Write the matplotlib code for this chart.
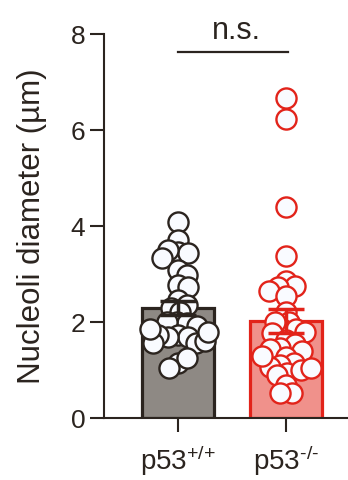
import numpy as np
import matplotlib
matplotlib.use("Agg")
import matplotlib.pyplot as plt

plt.rcParams["font.family"] = ["Liberation Sans", "DejaVu Sans"]
plt.rcParams["mathtext.fontset"] = "custom"
plt.rcParams["mathtext.rm"] = "Liberation Sans"
plt.rcParams["mathtext.it"] = "Liberation Sans"

# nucleoli diameters (um) per cell
wt = [4.08, 3.70, 3.46, 3.44, 3.50, 3.33, 3.08, 2.98, 2.77, 2.73,
      2.45, 2.35, 2.30, 2.20, 2.00, 1.98, 2.00, 1.92, 1.73, 1.69,
      1.69, 1.73, 1.56, 1.60, 1.56, 1.15, 1.25, 1.05, 1.85, 1.80]
ko = [6.67, 6.23, 4.39, 3.37, 2.85, 2.75, 2.72, 2.65, 2.55, 2.20,
      2.00, 1.85, 2.00, 1.85, 1.78, 1.80, 1.62, 1.55, 1.46, 1.44,
      1.40, 1.27, 1.15, 1.10, 1.06, 0.94, 0.90, 0.69, 0.52, 0.52,
      1.30, 1.00, 1.05]
groups = [wt, ko]
labels = ["p53$^{\\text{+/+}}$", "p53$^{\\text{-/-}}$"]

edge_cols = ["#2b241f", "#e2231a"]
fill_cols = ["#8e8984", "#f0918b"]
label_cols = ["#2b241f", "#e2231a"]
ink = "#2b241f"

fig = plt.figure(figsize=(3.48, 4.80), dpi=100)
ax = fig.add_axes([104 / 348, 62 / 480, 244 / 348, 384 / 480])
ax.set_xlim(-0.685, 1.574)
ax.set_ylim(0, 8)


def swarm(xc, vals, gap):
    # place points in display space, nudging sideways until overlap is small enough
    pts = ax.transData.transform([(xc, v) for v in vals])
    cx = pts[0, 0]
    placed = []
    for px, py in pts:
        cands = [0.0]
        for qx, qy in placed:
            dy = py - qy
            if abs(dy) < gap:
                dx = np.sqrt(gap ** 2 - dy ** 2)
                cands += [qx - cx + dx, qx - cx - dx]
        for c in sorted(cands, key=abs):
            if all((cx + c - qx) ** 2 + (py - qy) ** 2 >= gap ** 2 - 1e-6 for qx, qy in placed):
                break
        placed.append((cx + c, py))
    return ax.transData.inverted().transform(placed)


for i, vals in enumerate(groups):
    vals = np.array(vals)
    mean = vals.mean()
    sem = vals.std(ddof=1) / np.sqrt(len(vals))
    ax.bar(i, mean, width=0.66, color=fill_cols[i], edgecolor=edge_cols[i],
           linewidth=2.3, zorder=1)
    xy = swarm(i, vals, 10)
    ax.scatter(xy[:, 0], xy[:, 1], s=210, facecolor="#f9fbff",
               edgecolor=edge_cols[i], linewidth=1.7, zorder=3, clip_on=False)
    ax.errorbar(i, mean, yerr=sem, color=edge_cols[i], capsize=13,
                capthick=2.5, elinewidth=2.5, zorder=4)

# significance bracket
ax.plot([0, 1.02], [7.62, 7.62], color=ink, lw=1.6, clip_on=False)
ax.text(0.54, 7.76, "n.s.", ha="center", va="bottom", fontsize=22, color=ink)

for side in ["top", "right"]:
    ax.spines[side].set_visible(False)
for side in ["left", "bottom"]:
    ax.spines[side].set_color(ink)
    ax.spines[side].set_linewidth(1.5)

ax.set_yticks([0, 2, 4, 6, 8])
ax.set_xticks([0, 1])
ax.set_xticklabels(labels)
for lab, c in zip(ax.get_xticklabels(), label_cols):
    lab.set_color(c)
ax.tick_params(axis="both", colors=ink, width=1.5, length=10, labelsize=19)
ax.tick_params(axis="x", pad=8, labelsize=20)
for lab in ax.get_yticklabels():
    lab.set_color(ink)
ax.set_ylabel("Nucleoli diameter (µm)", fontsize=22.5, color=ink)
ax.yaxis.set_label_coords(-0.232, 0.5)

fig.savefig("out.png", dpi=100)
